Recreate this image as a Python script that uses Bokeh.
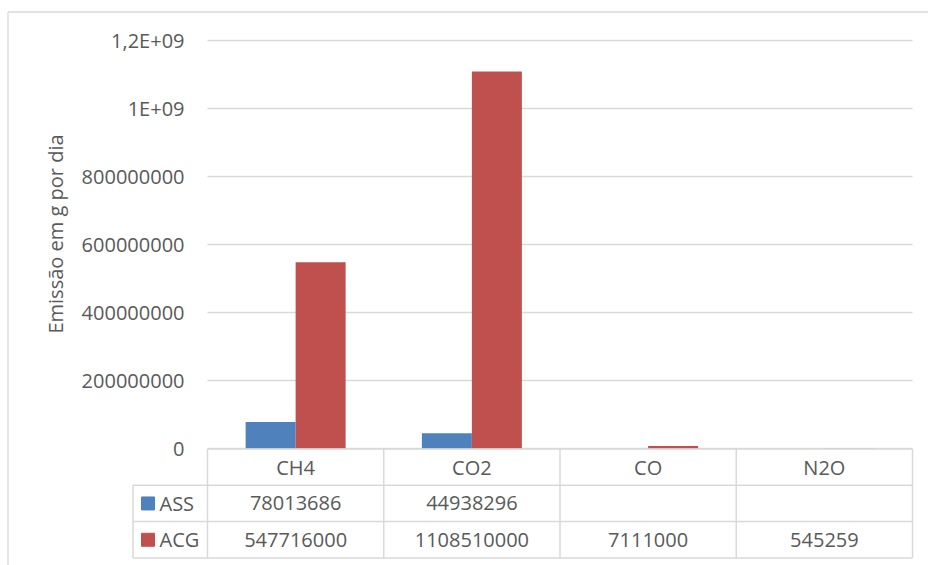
import math
from bokeh.plotting import figure
from bokeh.models import Range1d
from bokeh.core.properties import value
from bokeh.embed import file_html
from bokeh.resources import INLINE

# ---------------- data ----------------
categories = ["CH4", "CO2", "CO", "N2O"]
series_names = ["ASS", "ACG"]
ass_values = [78013686, 44938296, None, None]
acg_values = [547716000, 1108510000, 7111000, 545259]
y_ticks = [0, 200000000, 400000000, 600000000, 800000000, 1000000000, 1200000000]
y_tick_labels = ["0", "200000000", "400000000", "600000000", "800000000", "1E+09", "1,2E+09"]
y_title = "Emissão em g por dia"

# ---------------- style ----------------
COLORS = ["#4f81bd", "#c0504d"]
TEXT = "#595959"
LINE = "#d9d9d9"
FONT = value("Open Sans")
FS = "20px"

W, H = 928, 565
ORIGIN = 0                         # page offset of the canvas
PLOT_L, PLOT_R = 207, 912          # plot area (page px)
ZERO_Y = 448                       # page y of value 0
PX_PER_UNIT = 68 / 2e8             # px per value unit
n = len(categories)
CELL = (PLOT_R - PLOT_L) / n       # px per category
ROW = 36.3                         # table row height (px)
TABLE_TOP = 448.5
LEGEND_L = 132.5
BAR_PX = 50


def xd(px):
    return (px - PLOT_L) / CELL


def yd(py):
    return (ZERO_Y - py) / PX_PER_UNIT


p = figure(width=W, height=H,
           x_range=Range1d(xd(ORIGIN), xd(ORIGIN + W)),
           y_range=Range1d(yd(ORIGIN + H), yd(ORIGIN)),
           output_backend="svg", toolbar_location=None,
           x_axis_location=None, y_axis_location=None, min_border=0)
p.grid.visible = False
p.outline_line_color = None
p.background_fill_color = "white"
p.border_fill_color = "white"

# outer chart border (left and top)
p.segment(x0=[xd(7.5), xd(7.5)], x1=[xd(7.5), xd(940)],
          y0=[yd(11.5), yd(11.5)], y1=[yd(600), yd(11.5)],
          line_color=LINE, line_width=1.3)

# gridlines
p.segment(x0=[0] * len(y_ticks), x1=[n] * len(y_ticks), y0=y_ticks, y1=y_ticks,
          line_color=LINE, line_width=1.3)

# tick labels
p.text(x=[xd(184)] * len(y_ticks), y=y_ticks, text=y_tick_labels,
       text_align="right", text_baseline="middle", text_font=FONT,
       text_font_size=FS, text_color=TEXT)

# axis title
p.text(x=[xd(55)], y=[yd(233.5)], text=[y_title], angle=math.pi / 2,
       text_align="center", text_baseline="middle", text_font=FONT,
       text_font_size=FS, text_color=TEXT)

# bars
bw = BAR_PX / CELL
for k, (vals, col) in enumerate(zip([ass_values, acg_values], COLORS)):
    off = (k - 0.5) * bw
    xs = [i + 0.5 + off for i in range(n)]
    tops = [float("nan") if v is None else v for v in vals]
    p.vbar(x=xs, top=tops, bottom=0, width=bw, fill_color=col,
           line_color=None)

# ---------------- data table ----------------
r0 = TABLE_TOP
r1, r2, r3 = r0 + ROW, r0 + 2 * ROW, r0 + 3 * ROW
# horizontal lines
p.segment(x0=[0, xd(LEGEND_L), xd(LEGEND_L), xd(LEGEND_L)], x1=[n] * 4,
          y0=[yd(r0), yd(r1), yd(r2), yd(r3)], y1=[yd(r0), yd(r1), yd(r2), yd(r3)],
          line_color=LINE, line_width=1.5)
# vertical lines
p.segment(x0=list(range(n + 1)) + [xd(LEGEND_L)],
          x1=list(range(n + 1)) + [xd(LEGEND_L)],
          y0=[yd(r0)] * (n + 1) + [yd(r1)],
          y1=[yd(r3)] * (n + 2),
          line_color=LINE, line_width=1.5)

# header
p.text(x=[i + 0.5 for i in range(n)], y=[yd(r0 + ROW / 2)] * n, text=categories,
       text_align="center", text_baseline="middle", text_font=FONT,
       text_font_size=FS, text_color=TEXT)

for k, (name, vals, col) in enumerate(zip(series_names, [ass_values, acg_values], COLORS)):
    yc = yd(r0 + ROW * (k + 1) + ROW / 2)
    p.scatter(x=[xd(147.5)], y=[yc], marker="square", size=13,
              fill_color=col, line_color=col)
    p.text(x=[xd(159)], y=[yc], text=[name], text_align="left",
           text_baseline="middle", text_font=FONT, text_font_size=FS,
           text_color=TEXT)
    p.text(x=[i + 0.5 for i in range(n)], y=[yc] * n,
           text=["" if v is None else str(v) for v in vals],
           text_align="center", text_baseline="middle", text_font=FONT,
           text_font_size=FS, text_color=TEXT)

open("out.html", "w").write(file_html(p, INLINE))
